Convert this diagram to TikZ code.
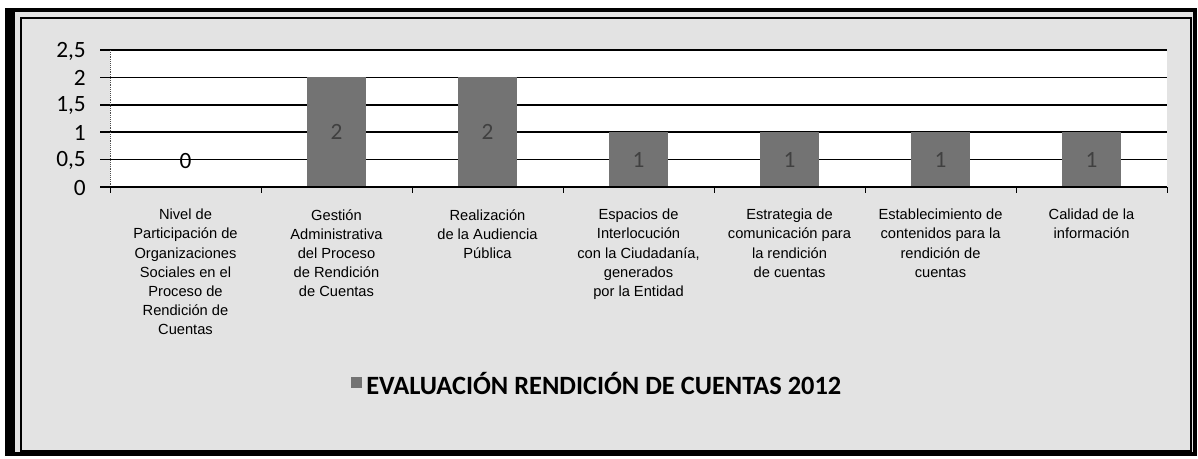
\documentclass[tikz,border=0pt]{standalone}
\usepackage{fontspec}
\setmainfont{Liberation Sans}
\newfontfamily\calibri{Carlito}
\usetikzlibrary{calc}

\begin{document}
\begin{tikzpicture}[x=0.75pt,y=-0.75pt,
  catlabel/.style={anchor=north, align=center, inner sep=0, font=\fontsize{11}{14.3}\selectfont},
  ylab/.style={anchor=east, inner sep=0, font=\calibri\fontsize{17.5}{17.5}\selectfont},
  vallab/.style={inner sep=0, font=\calibri\fontsize{17.5}{17.5}\selectfont},
  barfill/.style={fill=black!55}]
\useasboundingbox (0,0) rectangle (1198,458);
\fill[black!11] (9,10) rectangle (1195,454);
\fill[white] (110,50) rectangle (1167,187);
\foreach \yy/\lab in {0/0, 0.5/{0,5}, 1/1, 1.5/{1,5}, 2/2, 2.5/{2,5}} {
 \draw[black, line width=1.1] (100,{187-54.8*\yy}) -- (1167,{187-54.8*\yy});
 \node[ylab] (y\lab) at (86,{188-54.8*\yy}) {\lab};
}
\draw[black!70, densely dotted] (110,50) -- (110,193);
\foreach \i/\v in {1/0, 2/2, 3/2, 4/1, 5/1, 6/1, 7/1} {
 \pgfmathsetmacro\xc{110+151*(\i-0.5)}
 \ifnum\v>0
  \fill[barfill] (\xc-29.5,187) rectangle (\xc+29.5,{187-54.8*\v});
  \node[vallab, text=black!75] (v\i) at (\xc,{187-27.4*\v}) {\v};
 \else
  \node[vallab] (v\i) at (\xc,161) {\v};
 \fi
}
\draw[black, line width=1.1] (100,187) -- (1167,187);
\foreach \k in {0,...,7} {
 \draw[black] ({110+151*\k},187) -- ++(0,6);
}
\node[catlabel] (c1) at (185.5,209) {Nivel de\\Participación de\\Organizaciones\\Sociales en el\\Proceso de\\Rendición de\\Cuentas};
\node[catlabel] (c2) at (336.5,209) {Gestión\\Administrativa\\del Proceso\\de Rendición\\de Cuentas};
\node[catlabel] (c3) at (487.5,209) {Realización\\de la Audiencia\\Pública};
\node[catlabel] (c4) at (638.5,209) {Espacios de\\Interlocución\\con la Ciudadanía,\\generados\\por la Entidad};
\node[catlabel] (c5) at (789.5,209) {Estrategia de\\comunicación para\\la rendición\\de cuentas};
\node[catlabel] (c6) at (940.5,209) {Establecimiento de\\contenidos para la\\rendición de\\cuentas};
\node[catlabel] (c7) at (1091.5,209) {Calidad de la\\información};
\fill[barfill] (351,377) rectangle (362,388);
\node[anchor=west, inner sep=0, font=\calibri\bfseries\fontsize{19.8}{19.8}\selectfont] (title) at (366,383) {EVALUACIÓN RENDICIÓN DE CUENTAS 2012};
\draw[black, line width=0.8] (21,18) rectangle (1191,451);
\draw[black, line width=3] (9,10) rectangle (1195,454);
\fill[black] (5,8) rectangle (15,456);
\end{tikzpicture}
\end{document}
